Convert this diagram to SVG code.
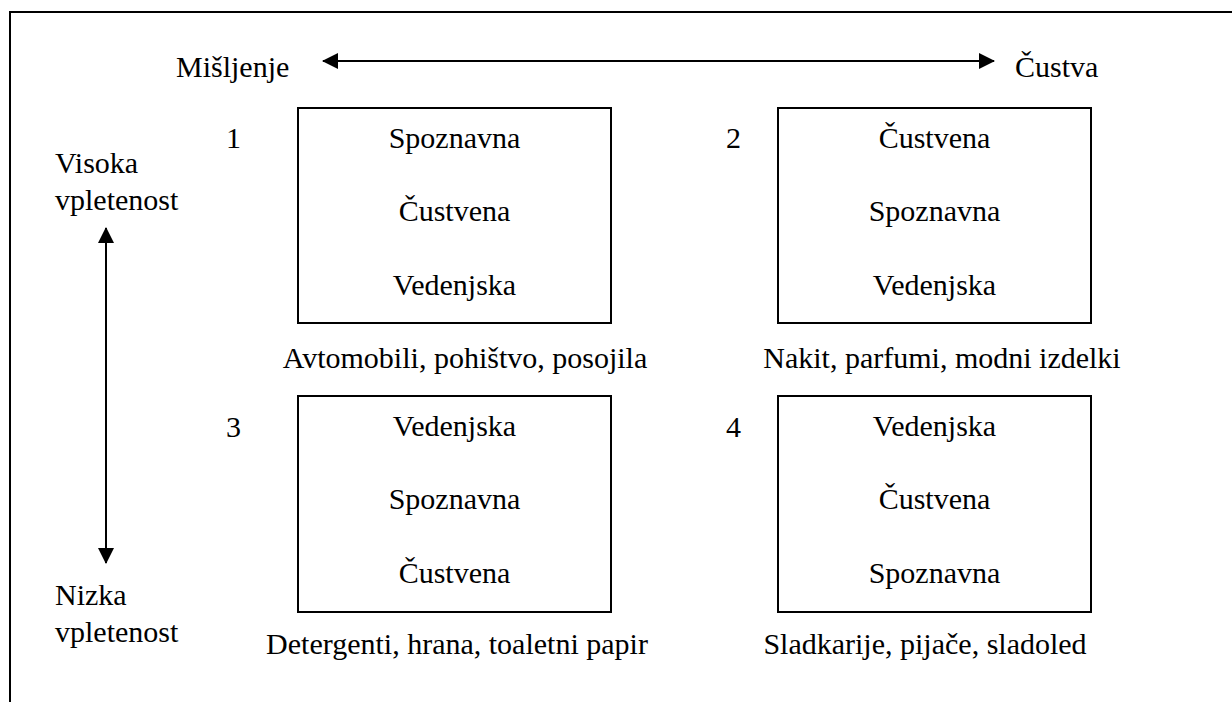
<svg xmlns="http://www.w3.org/2000/svg" width="1232" height="702" viewBox="0 0 1232 702">
<defs>
<style>
.t{font-family:'Liberation Serif','Times New Roman','DejaVu Serif',serif;font-size:30px;fill:#000}
.c{text-anchor:middle}
.box{fill:#fff;stroke:#000;stroke-width:2}
.ln{stroke:#000;stroke-width:2;fill:none}
</style>
<marker id="ah" viewBox="0 0 16 16" refX="15" refY="8" markerWidth="16" markerHeight="16" markerUnits="userSpaceOnUse" orient="auto-start-reverse">
<path d="M0,0 L16,8 L0,16 Z" fill="#000"/>
</marker>
</defs>
<rect x="0" y="0" width="1232" height="702" fill="#fff"/>
<rect x="10" y="12" width="1240" height="720" class="ln"/>
<g id="axes" class="t">
<text x="176" y="77">Mišljenje</text>
<text x="1015" y="77">Čustva</text>
<text x="55" y="173">Visoka</text>
<text x="55" y="210">vpletenost</text>
<text x="55" y="605">Nizka</text>
<text x="55" y="642">vpletenost</text>
</g>
<g id="connectors">
<line x1="323" y1="61" x2="994" y2="61" class="ln" marker-start="url(#ah)" marker-end="url(#ah)"/>
<line x1="106" y1="228" x2="106" y2="563" class="ln" marker-start="url(#ah)" marker-end="url(#ah)"/>
</g>
<g id="q1" class="t">
<text x="226" y="148">1</text>
<rect x="298" y="108" width="313" height="215" class="box"/>
<text x="454.5" y="148" class="c">Spoznavna</text>
<text x="454.5" y="221" class="c">Čustvena</text>
<text x="454.5" y="295" class="c">Vedenjska</text>
<text x="465" y="368" class="c">Avtomobili, pohištvo, posojila</text>
</g>
<g id="q2" class="t">
<text x="726" y="148">2</text>
<rect x="778" y="108" width="313" height="215" class="box"/>
<text x="934.5" y="148" class="c">Čustvena</text>
<text x="934.5" y="221" class="c">Spoznavna</text>
<text x="934.5" y="295" class="c">Vedenjska</text>
<text x="942" y="368" class="c">Nakit, parfumi, modni izdelki</text>
</g>
<g id="q3" class="t">
<text x="226" y="437">3</text>
<rect x="298" y="396" width="313" height="216" class="box"/>
<text x="454.5" y="436" class="c">Vedenjska</text>
<text x="454.5" y="509" class="c">Spoznavna</text>
<text x="454.5" y="583" class="c">Čustvena</text>
<text x="457" y="654" class="c">Detergenti, hrana, toaletni papir</text>
</g>
<g id="q4" class="t">
<text x="726" y="437">4</text>
<rect x="778" y="396" width="313" height="216" class="box"/>
<text x="934.5" y="436" class="c">Vedenjska</text>
<text x="934.5" y="509" class="c">Čustvena</text>
<text x="934.5" y="583" class="c">Spoznavna</text>
<text x="925" y="654" class="c">Sladkarije, pijače, sladoled</text>
</g>
</svg>
